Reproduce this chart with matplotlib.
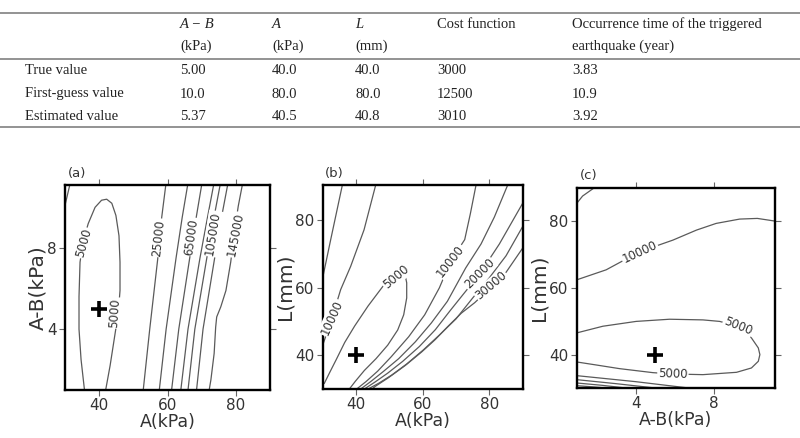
import matplotlib
matplotlib.use('Agg')
import matplotlib.pyplot as plt
from matplotlib.lines import Line2D

# ---------------- table data ----------------
col_head_1 = ["A − B", "A", "L", "Cost function", "Occurrence time of the triggered"]
col_head_2 = ["(kPa)", "(kPa)", "(mm)", "", "earthquake (year)"]
col_head_italic = [True, True, True, False, False]
row_labels = ["True value", "First-guess value", "Estimated value"]
row_true = ["5.00", "40.0", "40.0", "3000", "3.83"]
row_first = ["10.0", "80.0", "80.0", "12500", "10.9"]
row_est = ["5.37", "40.5", "40.8", "3010", "3.92"]

# ---------------- panel (a): A (kPa) vs A-B (kPa) ----------------
a_5000_x = [35.7, 34.7, 34.1, 34.1, 34.4, 35.4, 36.8, 38.8, 40.7, 42.2, 43.7, 44.9, 45.8, 46.1, 46.1, 45.6, 44.4, 43.2, 41.9]
a_5000_y = [1.0, 2.5, 4.0, 5.6, 7.3, 8.4, 9.2, 10.0, 10.35, 10.4, 10.2, 9.6, 8.6, 7.3, 5.9, 4.8, 3.5, 2.2, 1.0]
a_corner_x = [30.0, 30.7, 31.4]
a_corner_y = [10.1, 10.6, 11.1]
a_25000_x = [52.9, 54.8, 57.1, 58.3, 59.5]
a_25000_y = [1.0, 4.0, 7.4, 9.5, 11.1]
a_45000_x = [57.6, 59.6, 62.5, 64.3, 65.9]
a_45000_y = [1.0, 4.0, 7.5, 9.5, 11.1]
a_65000_x = [61.2, 63.3, 66.5, 68.4, 70.0]
a_65000_y = [1.0, 4.0, 7.5, 9.5, 11.1]
a_85000_x = [63.9, 66.0, 69.5, 71.7, 73.5]
a_85000_y = [1.0, 4.0, 7.5, 9.5, 11.1]
a_105000_x = [66.0, 68.0, 71.5, 73.6, 75.4]
a_105000_y = [1.0, 4.0, 7.5, 9.5, 11.1]
a_125000_x = [68.5, 70.4, 73.8, 75.8, 77.6]
a_125000_y = [1.0, 4.0, 7.5, 9.5, 11.1]
a_145000_x = [72.2, 72.7, 73.65, 74.1, 74.4, 75.6, 77.1, 78.5, 79.7, 80.7, 81.9]
a_145000_y = [1.0, 1.5, 2.8, 4.1, 4.6, 5.1, 5.9, 7.3, 8.9, 10.05, 11.1]
a_lab_text = ["5000", "5000", "25000", "65000", "105000", "145000"]
a_lab_x = [35.4, 44.6, 57.5, 67.0, 73.3, 79.9]
a_lab_y = [8.25, 4.8, 8.5, 8.55, 8.7, 8.65]
a_lab_rot = [74, 86, 84, 82, 81, 79]
a_true = (40.0, 5.0)

# ---------------- panel (b): A (kPa) vs L (mm) ----------------
b_15000ul_x = [30.0, 32.4, 35.9]
b_15000ul_y = [63.0, 74.3, 90.5]
b_10000ul_x = [30.0, 31.4, 32.8, 35.4, 38.4, 42.4, 45.9]
b_10000ul_y = [43.0, 47.0, 51.1, 59.5, 66.4, 77.2, 90.5]
b_5000_x = [30.4, 32.1, 34.1, 36.6, 39.6, 43.6, 48.1, 51.5, 54.6, 55.2, 55.2, 54.3, 52.5, 49.5, 46.0, 42.5, 39.8, 38.0]
b_5000_y = [31.5, 34.9, 38.8, 43.8, 48.7, 54.6, 60.5, 63.4, 64.4, 61.5, 57.0, 52.0, 47.5, 43.0, 39.0, 35.5, 32.3, 30.0]
b_10000r_x = [40.2, 43.0, 46.5, 50.5, 55.8, 60.6, 65.0, 68.4, 72.6, 74.3, 76.0]
b_10000r_y = [30.0, 32.2, 35.3, 39.5, 45.5, 52.0, 60.0, 67.9, 74.3, 82.0, 90.5]
b_15000_x = [41.4, 44.4, 48.2, 52.8, 57.8, 62.6, 67.4, 72.9, 77.5, 81.5, 85.5]
b_15000_y = [30.0, 32.2, 35.2, 39.0, 44.0, 49.6, 56.0, 65.9, 73.0, 81.0, 90.5]
b_20000_x = [42.5, 45.6, 49.5, 54.0, 59.0, 63.8, 68.2, 72.5, 77.0, 80.0, 83.0, 90.0]
b_20000_y = [30.0, 32.0, 34.7, 38.2, 42.6, 47.6, 53.2, 58.5, 64.0, 68.5, 73.0, 85.1]
b_25000_x = [43.6, 46.8, 50.8, 55.3, 60.2, 65.0, 70.0, 75.0, 80.0, 85.0, 90.0]
b_25000_y = [30.0, 31.7, 34.2, 37.5, 41.6, 46.0, 50.8, 57.0, 63.0, 69.5, 78.2]
b_30000_x = [44.8, 45.8, 49.8, 54.8, 59.7, 63.7, 67.7, 71.6, 75.6, 80.1, 85.0, 90.0]
b_30000_y = [30.0, 30.8, 33.4, 37.0, 41.0, 44.6, 48.7, 52.5, 55.6, 59.8, 64.6, 71.8]
b_lab_text = ["10000", "5000", "10000", "20000", "30000"]
b_lab_x = [32.7, 52.0, 68.4, 77.0, 80.6]
b_lab_y = [51.1, 63.2, 67.9, 64.2, 60.6]
b_lab_rot = [66, 40, 52, 45, 40]
b_true = (40.0, 40.0)

# ---------------- panel (c): A-B (kPa) vs L (mm) ----------------
c_10000_x = [1.0, 2.5, 4.2, 5.9, 7.1, 8.1, 9.3, 10.2, 11.1]
c_10000_y = [62.4, 65.4, 70.8, 74.3, 77.3, 79.3, 80.6, 80.8, 80.0]
c_5000_x = [1.0, 2.33, 4.03, 5.73, 7.43, 8.28, 9.2, 9.9, 10.25, 10.33, 10.25, 9.9, 9.14, 7.43, 5.87, 4.88, 3.18, 1.99, 1.0]
c_5000_y = [46.5, 48.5, 49.95, 50.6, 50.4, 49.95, 48.5, 45.0, 42.0, 40.0, 38.0, 36.0, 34.7, 34.0, 34.2, 34.6, 35.8, 36.9, 37.8]
c_corner_x = [1.0, 1.3, 1.9]
c_corner_y = [85.3, 87.5, 90.0]
c_b1_x = [1.0, 4.0, 6.7]
c_b1_y = [33.7, 31.9, 30.0]
c_b2_x = [1.0, 3.0, 5.0]
c_b2_y = [32.5, 31.3, 30.0]
c_b3_x = [1.0, 2.3, 3.5]
c_b3_y = [31.5, 30.8, 30.0]
c_b4_x = [1.0, 1.8, 2.5]
c_b4_y = [30.7, 30.35, 30.0]
c_lab_text = ["10000", "5000", "5000"]
c_lab_x = [4.2, 9.2, 5.9]
c_lab_y = [70.8, 48.4, 34.2]
c_lab_rot = [25, -22, -2]
c_true = (5.0, 40.0)

# ---------------- figure ----------------
fig = plt.figure(figsize=(8.0, 4.38), dpi=100)
W, H = 800.0, 438.0

def fx(px):
    return px / W

def fy(py):
    return 1.0 - py / H

# table rules
for py in (12.7, 59.3, 126.7):
    fig.add_artist(Line2D([0, 1], [fy(py), fy(py)], transform=fig.transFigure,
                          color='#808080', lw=1.2))

col_x = [180, 272, 355, 437, 572]
tfont = dict(family='Liberation Serif', fontsize=10.5, color='#222222', va='center', ha='left')
for i in range(5):
    st = 'italic' if col_head_italic[i] else 'normal'
    fig.text(fx(col_x[i]), fy(24), col_head_1[i], fontstyle=st, **tfont)
    fig.text(fx(col_x[i]), fy(46.7), col_head_2[i], **tfont)
row_y = [71, 94, 116.7]
for r, (lab, vals) in enumerate(zip(row_labels, [row_true, row_first, row_est])):
    fig.text(fx(25), fy(row_y[r]), lab, **tfont)
    for i in range(5):
        fig.text(fx(col_x[i]), fy(row_y[r]), vals[i], **tfont)

line_kw = dict(color='#5a5a5a', lw=0.9, zorder=2, solid_capstyle='butt')

def panel(rect, lines, labs, true_pt, xlim, ylim, xticks, yticks, xlabel, ylabel, tag, tagpos):
    ax = fig.add_axes(rect)
    for xs, ys in lines:
        ax.plot(xs, ys, **line_kw)
    for s, x, y, r in zip(*labs):
        ax.text(x, y, s, rotation=r, rotation_mode='anchor', ha='center', va='center',
                fontsize=8.5, color='#333333', zorder=3,
                bbox=dict(boxstyle='square,pad=0.08', fc='white', ec='none'))
    ax.plot([true_pt[0]], [true_pt[1]], marker='+', ms=11, mew=2.6, color='black', zorder=4)
    ax.set_xlim(*xlim)
    ax.set_ylim(*ylim)
    ax.set_xticks(xticks)
    ax.set_yticks(yticks)
    ax.tick_params(direction='out', length=4, width=0.8, color='#666666',
                   top=True, right=True, labeltop=False, labelright=False,
                   labelsize=11, labelcolor='#333333', pad=2)
    for sp in ax.spines.values():
        sp.set_linewidth(1.7)
        sp.set_color('black')
    ax.set_xlabel(xlabel, fontsize=12.5, color='#333333', labelpad=0)
    ax.set_ylabel(ylabel, fontsize=14.5, color='#333333', labelpad=0)
    fig.text(fx(tagpos[0]), fy(tagpos[1]), tag, fontsize=9.5, color='#333333', ha='left', va='center')
    return ax

# panel (a)
panel([fx(65), fy(390), 205 / W, 205 / H],
      [(a_5000_x, a_5000_y), (a_corner_x, a_corner_y), (a_25000_x, a_25000_y),
       (a_45000_x, a_45000_y), (a_65000_x, a_65000_y), (a_85000_x, a_85000_y),
       (a_105000_x, a_105000_y), (a_125000_x, a_125000_y), (a_145000_x, a_145000_y)],
      (a_lab_text, a_lab_x, a_lab_y, a_lab_rot), a_true,
      (30, 90), (1, 11.1), [40, 60, 80], [4, 8], 'A(kPa)', 'A-B(kPa)', '(a)', (68, 173))

# panel (b)
panel([fx(322.7), fy(389), 200 / W, 204 / H],
      [(b_15000ul_x, b_15000ul_y), (b_10000ul_x, b_10000ul_y), (b_5000_x, b_5000_y),
       (b_10000r_x, b_10000r_y), (b_15000_x, b_15000_y), (b_20000_x, b_20000_y),
       (b_25000_x, b_25000_y), (b_30000_x, b_30000_y)],
      (b_lab_text, b_lab_x, b_lab_y, b_lab_rot), b_true,
      (30, 90), (30, 90.5), [40, 60, 80], [40, 60, 80], 'A(kPa)', 'L(mm)', '(b)', (325, 173))

# panel (c)
panel([fx(576.7), fy(388), 198.3 / W, 200.3 / H],
      [(c_10000_x, c_10000_y), (c_5000_x, c_5000_y), (c_corner_x, c_corner_y),
       (c_b1_x, c_b1_y), (c_b2_x, c_b2_y), (c_b3_x, c_b3_y), (c_b4_x, c_b4_y)],
      (c_lab_text, c_lab_x, c_lab_y, c_lab_rot), c_true,
      (1, 11.1), (30, 90), [4, 8], [40, 60, 80], 'A-B(kPa)', 'L(mm)', '(c)', (580, 176))

fig.savefig('out.png', dpi=100)
